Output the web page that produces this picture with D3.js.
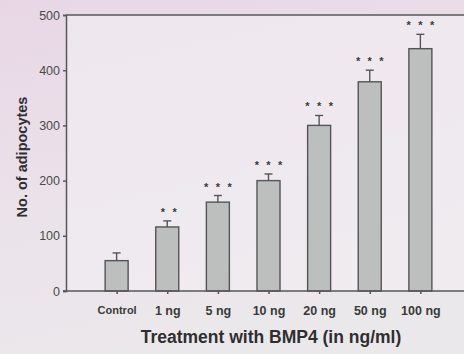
<!DOCTYPE html>
<html>
<head>
<meta charset="utf-8">
<script src="https://cdn.jsdelivr.net/npm/d3@7"></script>
<style>
  html, body { margin: 0; padding: 0; background: #ebe3ea; }
  svg { display: block; font-family: "Liberation Sans", Arial, sans-serif; }
</style>
</head>
<body>
<div id="chart-area"></div>
<script>
// data
const categories = ["Control", "1 ng", "5 ng", "10 ng", "20 ng", "50 ng", "100 ng"];
const means = [55, 116, 161, 200, 300, 379, 439];
const errors = [14, 11, 12, 12, 18, 21, 26];
const stars = [0, 2, 3, 3, 3, 3, 3];
const yTicks = [0, 100, 200, 300, 400, 500];

const W = 464, H = 354;
const MARGIN = { LEFT: 66, RIGHT: 0, TOP: 15, BOTTOM: 63 };
const HEIGHT = H - MARGIN.TOP - MARGIN.BOTTOM;

const svg = d3.select("#chart-area").append("svg")
  .attr("width", W)
  .attr("height", H);

// background gradient (pinkish at top, paler lower down)
const defs = svg.append("defs");
const grad = defs.append("linearGradient")
  .attr("id", "bg")
  .attr("x1", 0).attr("y1", 0).attr("x2", 0.3).attr("y2", 1);
grad.append("stop").attr("offset", "0%").attr("stop-color", "#e8d6e5");
grad.append("stop").attr("offset", "55%").attr("stop-color", "#ebe2ea");
grad.append("stop").attr("offset", "100%").attr("stop-color", "#ebe8eb");
svg.append("rect").attr("width", W).attr("height", H).attr("fill", "url(#bg)");

// scales
const x = d3.scalePoint()
  .domain(categories)
  .range([MARGIN.LEFT, 471])
  .padding(1);
const y = d3.scaleLinear()
  .domain([0, 500])
  .range([MARGIN.TOP + HEIGHT, MARGIN.TOP]);

// lighter plot area
svg.append("rect")
  .attr("x", MARGIN.LEFT)
  .attr("y", y(500))
  .attr("width", W - MARGIN.LEFT)
  .attr("height", y(0) - y(500))
  .attr("fill", "#f1edf1")
  .attr("opacity", 0.7);

const barW = 23;
const axisColor = "#575757";

// bars
svg.append("g").selectAll("rect")
  .data(categories)
  .join("rect")
  .attr("x", d => x(d) - barW / 2)
  .attr("y", (d, i) => y(means[i]))
  .attr("width", barW)
  .attr("height", (d, i) => y(0) - y(means[i]))
  .attr("fill", "#bdbebe")
  .attr("stroke", "#555")
  .attr("stroke-width", 1.4);

// error bars (upper only)
const eb = svg.append("g")
  .attr("stroke", "#555")
  .attr("stroke-width", 1.4);
eb.selectAll("line.stem")
  .data(categories)
  .join("line")
  .attr("class", "stem")
  .attr("x1", d => x(d)).attr("x2", d => x(d))
  .attr("y1", (d, i) => y(means[i]))
  .attr("y2", (d, i) => y(means[i] + errors[i]));
eb.selectAll("line.cap")
  .data(categories)
  .join("line")
  .attr("class", "cap")
  .attr("x1", d => x(d) - 4).attr("x2", d => x(d) + 4)
  .attr("y1", (d, i) => y(means[i] + errors[i]))
  .attr("y2", (d, i) => y(means[i] + errors[i]));

// significance stars, one small asterisk each, ~11.7px apart
const starData = [];
categories.forEach((c, i) => {
  for (let k = 0; k < stars[i]; k++) {
    starData.push({ c, i, off: (k - (stars[i] - 1) / 2) * 11.7 + (stars[i] === 2 ? 1.5 : 0) });
  }
});
svg.append("g").selectAll("text")
  .data(starData)
  .join("text")
  .attr("x", d => x(d.c) + d.off)
  .attr("y", d => y(means[d.i] + errors[d.i]) - 5)
  .attr("text-anchor", "middle")
  .attr("font-size", "11px")
  .attr("font-weight", "bold")
  .attr("fill", "#3a3a3a")
  .text("*");

// top frame line
svg.append("line")
  .attr("x1", MARGIN.LEFT).attr("x2", W)
  .attr("y1", y(500)).attr("y2", y(500))
  .attr("stroke", axisColor)
  .attr("stroke-width", 1.5);

// axes
const xAxis = svg.append("g")
  .attr("transform", `translate(0, ${y(0)})`)
  .call(d3.axisBottom(x).tickSize(3).tickPadding(12));
xAxis.select(".domain").attr("d", `M${MARGIN.LEFT - 3},0H${W}`);
xAxis.selectAll("text")
  .attr("font-size", d => d === "Control" ? "11px" : "12.5px")
  .attr("font-weight", "bold")
  .attr("font-family", "Liberation Sans, Arial, sans-serif")
  .attr("fill", "#3a3a3a");

const yAxis = svg.append("g")
  .attr("transform", `translate(${MARGIN.LEFT}, 0)`)
  .call(d3.axisLeft(y).tickValues(yTicks).tickSize(3).tickPadding(3));
yAxis.selectAll("text")
  .attr("font-size", "12.5px")
  .attr("font-family", "Liberation Sans, Arial, sans-serif")
  .attr("fill", "#4a4a4a");

svg.selectAll(".domain, .tick line")
  .attr("stroke", axisColor)
  .attr("stroke-width", 1.5);

// axis labels
svg.append("text")
  .attr("x", 271)
  .attr("y", 343)
  .attr("text-anchor", "middle")
  .attr("font-size", "17.5px")
  .attr("font-weight", "bold")
  .attr("fill", "#2f2f2f")
  .text("Treatment with BMP4 (in ng/ml)");

svg.append("text")
  .attr("transform", "rotate(-90)")
  .attr("x", -157)
  .attr("y", 26.5)
  .attr("text-anchor", "middle")
  .attr("font-size", "14.5px")
  .attr("font-weight", "bold")
  .attr("fill", "#2f2f2f")
  .text("No. of adipocytes");
</script>
</body>
</html>
